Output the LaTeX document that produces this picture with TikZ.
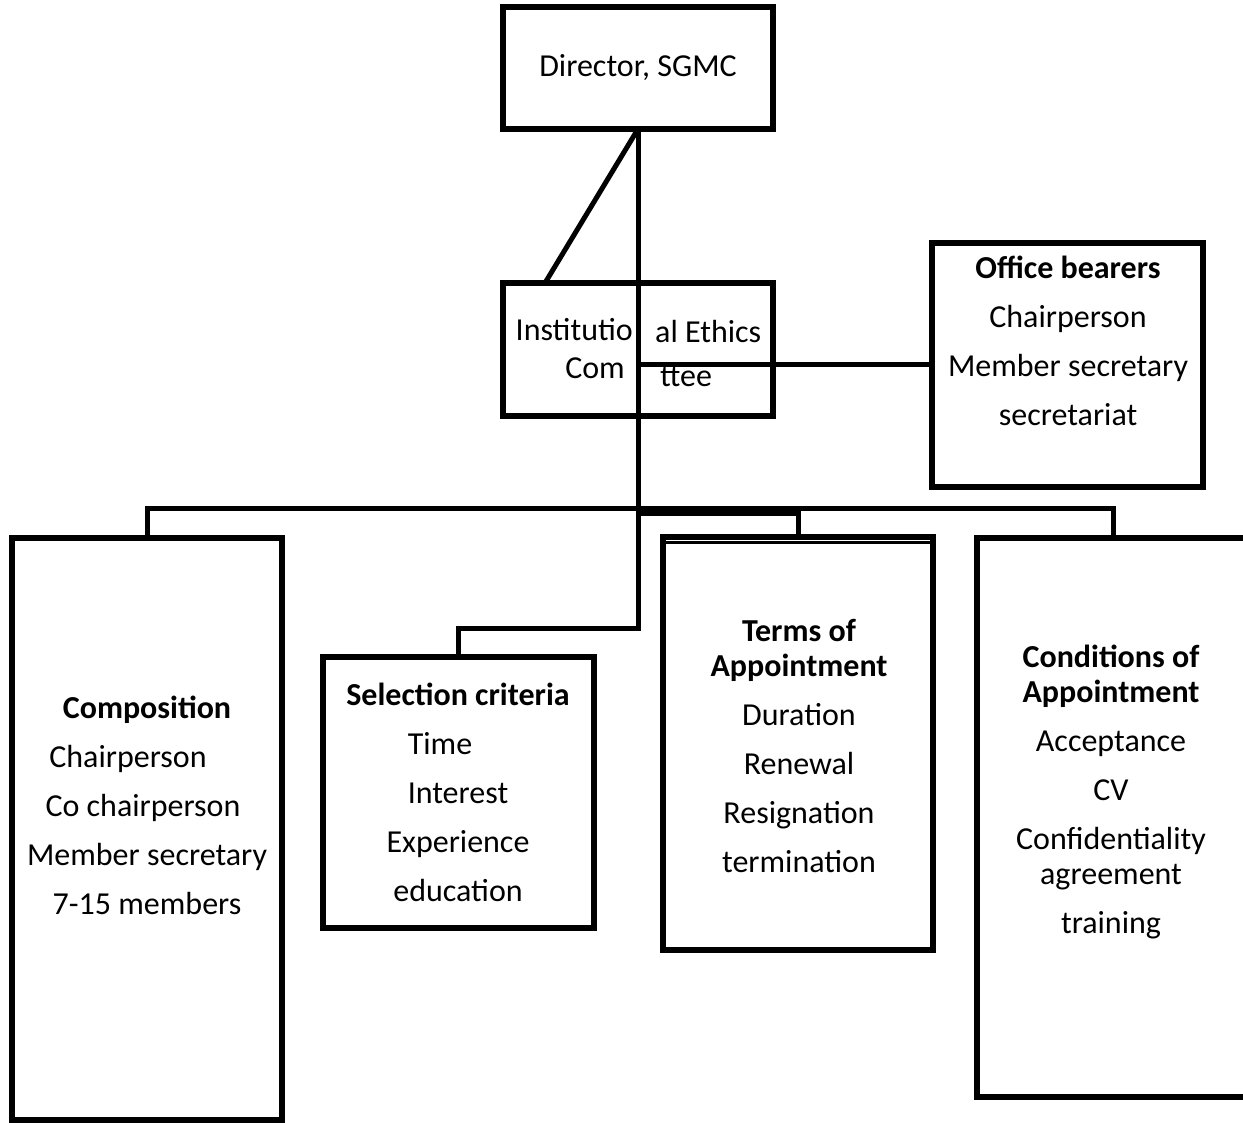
\documentclass[tikz,border=0pt]{standalone}
\usepackage{fontspec}
\setmainfont{Carlito}
\usetikzlibrary{calc}

\tikzset{
  box/.style={draw, line width=5.5pt, inner sep=0pt, outer sep=0pt},
  txt/.style={align=center, inner sep=0pt, font=\fontsize{32}{35}\selectfont},
  link/.style={line width=5pt}
}

\begin{document}
\begin{tikzpicture}[x=1pt,y=-1pt]

\def\gap{14pt}

\useasboundingbox (0,0) rectangle (1243,1123);
\fill[white] (0,0) rectangle (1243,1123);

% boxes
\node[box, txt, minimum width=270pt, minimum height=122pt] (dir) at (638,68) {Director, SGMC};
\node[box, minimum width=270pt, minimum height=133pt] (iec) at (638,349.5) {};
\node[box, minimum width=271pt, minimum height=244pt] (office) at (1067.5,365) {};
\node[box, minimum width=270pt, minimum height=582pt] (comp) at (147,829) {};
\node[box, minimum width=271pt, minimum height=271pt] (sel) at (458.5,792.5) {};
\node[box, minimum width=270pt, minimum height=413pt] (terms) at (798,743.5) {};
\node[box, minimum width=273pt, minimum height=559pt] (cond) at (1113.5,817.5) {};
\draw[line width=3pt] ($(terms.north west)+(0,5)$) -- ($(terms.north east)+(0,5)$);

% connectors
\coordinate (iecTop) at ($(iec.north west)+(42,0)$);
\coordinate (bend) at (638,628);
\coordinate (tap) at (638,513);
\draw[link] (dir.south) -- (iecTop);
\draw[link] (dir.south) -- (bend) -| (sel.north);
\draw[link] (dir.south |- office.west) -- (office.west);
\draw[link] (comp.north) -- ++(0,-30) -| (cond.north);
\draw[link] (tap) -| (terms.north);

% texts
\node[txt, anchor=base east] (iecA) at (633,341) {Institutio};
\node[txt, anchor=base east] (iecB) at (625,378) {Com};
\node[txt, anchor=base west] (iecC) at (655,343) {al Ethics};
\node[txt, anchor=base west] (iecD) at (660,387) {ttee};

\node[txt] (officeT) at (1068,341) {\textbf{Office bearers}\\[\gap] Chairperson\\[\gap] Member secretary\\[\gap] secretariat};
\node[txt] (compT) at (147,805.5) {\textbf{Composition}\\[\gap] Chairperson\kern38pt\\[\gap] Co chairperson\kern8pt\\[\gap] Member secretary\\[\gap] 7-15 members};
\node[txt] (selT) at (458,792) {\textbf{Selection criteria}\\[\gap] Time\kern36pt\\[\gap] Interest\\[\gap] Experience\\[\gap] education};
\node[txt] (termsT) at (799,746) {\textbf{Terms of}\\ \textbf{Appointment}\\[\gap] Duration\\[\gap] Renewal\\[\gap] Resignation\\[\gap] termination};
\node[txt] (condT) at (1111,792) {\textbf{Conditions of}\\ \textbf{Appointment}\\[\gap] Acceptance\\[\gap] CV\\[\gap] Confidentiality\\ agreement\\[\gap] training};

\end{tikzpicture}
\end{document}
